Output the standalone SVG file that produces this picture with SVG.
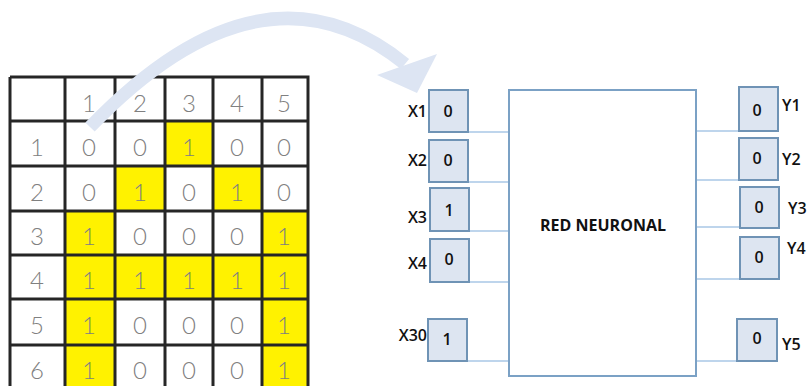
<svg xmlns="http://www.w3.org/2000/svg" width="808" height="386" viewBox="0 0 808 386">
<style>
  .cell { font-family: Lato, "Open Sans", "DejaVu Sans", sans-serif; font-weight: 300; font-size: 24px; fill: #808080; text-anchor: middle; }
  .grid { stroke: #262626; stroke-width: 3; fill: none; }
  .yel { fill: #FFF200; }
  .box { fill: #DDE5F1; stroke: #6F93B5; stroke-width: 2; }
  .main { fill: #FFFFFF; stroke: #7BA1C5; stroke-width: 2; }
  .lbl { font-family: "Open Sans", "Liberation Sans", Arial, sans-serif; font-weight: 600; font-size: 16px; fill: #111; }
  .val { font-family: "Open Sans", "Liberation Sans", Arial, sans-serif; font-weight: 600; font-size: 16px; fill: #111; text-anchor: middle; }
  .wire { stroke: #A9C8E6; stroke-width: 1.6; fill: none; }
  .title { font-family: "Open Sans", "Liberation Sans", Arial, sans-serif; font-weight: 700; font-size: 16px; fill: #111; text-anchor: middle; }
</style>

<g id="matrix">
  <rect class="yel" x="165" y="121" width="48" height="45"/>
  <rect class="yel" x="115" y="166" width="50" height="45"/>
  <rect class="yel" x="213" y="166" width="49" height="45"/>
  <rect class="yel" x="65" y="211" width="50" height="44"/>
  <rect class="yel" x="262" y="211" width="46" height="44"/>
  <rect class="yel" x="65" y="255" width="243" height="44"/>
  <rect class="yel" x="65" y="299" width="50" height="46"/>
  <rect class="yel" x="262" y="299" width="46" height="46"/>
  <rect class="yel" x="65" y="345" width="50" height="45"/>
  <rect class="yel" x="262" y="345" width="46" height="45"/>
  <path class="grid" d="M10,77 H308 V392 M10,77 V392 M65,77 V392 M115,77 V392 M165,77 V392 M213,77 V392 M262,77 V392 M10,121 H308 M10,166 H308 M10,211 H308 M10,255 H308 M10,299 H308 M10,345 H308"/>
  <g class="cell">
    <text x="89" y="112">1</text><text x="140" y="112">2</text><text x="189" y="112">3</text><text x="237" y="112">4</text><text x="284" y="112">5</text>
    <text x="37" y="156">1</text><text x="89" y="156">0</text><text x="140" y="156">0</text><text x="189" y="156">1</text><text x="237" y="156">0</text><text x="284" y="156">0</text>
    <text x="37" y="201">2</text><text x="89" y="201">0</text><text x="140" y="201">1</text><text x="189" y="201">0</text><text x="237" y="201">1</text><text x="284" y="201">0</text>
    <text x="37" y="245">3</text><text x="89" y="245">1</text><text x="140" y="245">0</text><text x="189" y="245">0</text><text x="237" y="245">0</text><text x="284" y="245">1</text>
    <text x="37" y="289">4</text><text x="89" y="289">1</text><text x="140" y="289">1</text><text x="189" y="289">1</text><text x="237" y="289">1</text><text x="284" y="289">1</text>
    <text x="37" y="334">5</text><text x="89" y="334">1</text><text x="140" y="334">0</text><text x="189" y="334">0</text><text x="237" y="334">0</text><text x="284" y="334">1</text>
    <text x="37" y="379">6</text><text x="89" y="379">1</text><text x="140" y="379">0</text><text x="189" y="379">0</text><text x="237" y="379">0</text><text x="284" y="379">1</text>
  </g>
</g>

<g id="connectors">
  <path d="M90,127 Q262,-52 405,64" fill="none" stroke="#DDE5F3" stroke-width="13"/>
  <polygon points="437,54 377,75 417,93" fill="#DDE5F3"/>
  <path class="wire" d="M468,132 H509 M468,182 H509 M469,231 H509 M469,282 H513 M467,361 H509"/>
  <path class="wire" d="M696,131 H739 M696,180 H739 M696,227 H740 M696,279 H740 M696,361 H737"/>
</g>

<g id="red-neuronal">
  <rect class="main" x="509" y="90" width="187" height="286"/>
  <text class="title" x="603" y="231">RED NEURONAL</text>
</g>

<g id="x1"><rect class="box" x="429" y="90" width="39" height="42"/><text class="val" x="448" y="117">0</text><text class="lbl" x="427" y="117" text-anchor="end">X1</text></g>
<g id="x2"><rect class="box" x="429" y="140" width="39" height="42"/><text class="val" x="448" y="166">0</text><text class="lbl" x="427" y="166" text-anchor="end">X2</text></g>
<g id="x3"><rect class="box" x="430" y="188" width="39" height="43"/><text class="val" x="449" y="216">1</text><text class="lbl" x="427" y="223" text-anchor="end">X3</text></g>
<g id="x4"><rect class="box" x="430" y="239" width="39" height="43"/><text class="val" x="449" y="265">0</text><text class="lbl" x="427" y="269" text-anchor="end">X4</text></g>
<g id="x30"><rect class="box" x="428" y="319" width="39" height="42"/><text class="val" x="447" y="345">1</text><text class="lbl" x="427" y="341" text-anchor="end">X30</text></g>

<g id="y1"><rect class="box" x="739" y="87" width="39" height="44"/><text class="val" x="757" y="116">0</text><text class="lbl" x="782" y="111">Y1</text></g>
<g id="y2"><rect class="box" x="739" y="138" width="39" height="42"/><text class="val" x="757" y="164">0</text><text class="lbl" x="782" y="165">Y2</text></g>
<g id="y3"><rect class="box" x="740" y="187" width="39" height="41"/><text class="val" x="759" y="213">0</text><text class="lbl" x="788" y="214">Y3</text></g>
<g id="y4"><rect class="box" x="740" y="237" width="39" height="42"/><text class="val" x="759" y="263">0</text><text class="lbl" x="787" y="254">Y4</text></g>
<g id="y5"><rect class="box" x="737" y="319" width="40" height="42"/><text class="val" x="757" y="344">0</text><text class="lbl" x="782" y="350">Y5</text></g>
</svg>
